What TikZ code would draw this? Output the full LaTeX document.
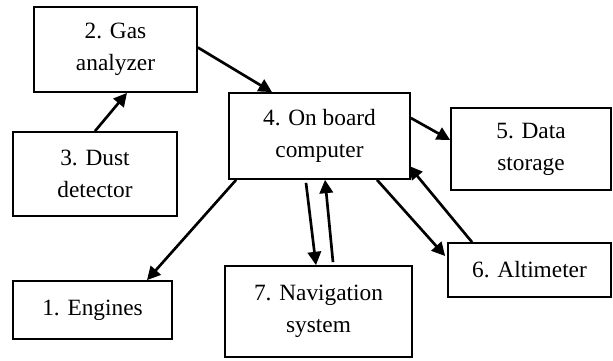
\documentclass[tikz,border=0pt]{standalone}
\usepackage{fontspec}
\setmainfont{Liberation Serif}
\usetikzlibrary{arrows.meta,calc}
\begin{document}
\begin{tikzpicture}[x=0.75pt,y=-0.75pt,
  unitbox/.style={draw=black,line width=1.3pt,inner sep=0pt,align=center,
    font=\fontsize{17.5pt}{24pt}\selectfont},
  link/.style={draw=black,line width=2pt,-{Triangle[length=10pt,width=10pt]}}]
\path[use as bounding box,fill=white] (0,0) rectangle (613,360);

\node[unitbox,minimum width=122.25pt,minimum height=63.75pt] (gas) at (115.5, 49.5) {2. Gas\\analyzer};
\node[unitbox,minimum width=123pt,minimum height=63pt] (dust) at ( 95.0,174.0) {3. Dust\\detector};
\node[unitbox,minimum width=135.75pt,minimum height=64.5pt] (comp) at (319.5,136.0) {4. On board\\computer};
\node[unitbox,minimum width=120pt,minimum height=61.5pt] (store) at (531.0,149.0) {5. Data\\storage};
\node[unitbox,minimum width=122.25pt,minimum height=40.5pt] (alti) at (529.5,270.0) {6. Altimeter};
\node[unitbox,minimum width=140.25pt,minimum height=68.25pt] (navi) at (318.5,311.5) {7. Navigation\\system};
\node[unitbox,minimum width=119.25pt,minimum height=43.5pt] (eng) at ( 92.5,310.0) {1. Engines};

\draw[link] (dust.north) -- ($(gas.south)+(11.5,0)$);
\draw[link] ($(gas.east)+(0,-2)$) -- ($(comp.north)+(-47.5,0)$);
\draw[link] ($(comp.east)+(0,-18)$) -- ($(store.west)+(0,-9)$);
\draw[link] ($(alti.north)+(-57.5,0)$) -- ($(comp.south east)+(-2,-14)$);
\draw[link] ($(comp.south)+(57.5,0)$) -- ($(alti.west)+(-2,-14)$);
\draw[link] ($(comp.south)+(-13.5,3)$) -- ($(navi.north)+(-2.5,0)$);
\draw[link] ($(navi.north)+(14.5,-3)$) -- ($(comp.south)+(5.5,0)$);
\draw[link] ($(comp.south west)+(8,0)$) -- ($(eng.north)+(54.5,0)$);
\end{tikzpicture}
\end{document}
